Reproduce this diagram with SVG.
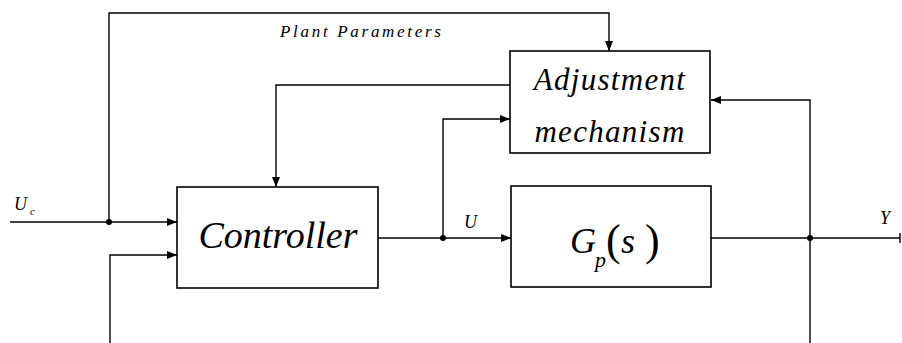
<svg xmlns="http://www.w3.org/2000/svg" width="902" height="343" viewBox="0 0 902 343">
<defs>
<style>
.box{fill:#fff;stroke:#000;stroke-width:1.6}
.ln{fill:none;stroke:#000;stroke-width:1.4}
.t{font-family:'Liberation Serif','Times New Roman',serif;font-style:italic;fill:#000}
.n{font-family:'Liberation Serif','Times New Roman',serif;fill:#000}
</style>
<marker id="ah" markerWidth="10" markerHeight="8" refX="10" refY="4" orient="auto" markerUnits="userSpaceOnUse">
<path d="M0,0 L10,4 L0,8 Z" fill="#000"/>
</marker>
</defs>
<rect width="902" height="343" fill="#fff"/>
<g id="connectors">
<path class="ln" d="M109,222 V13 H609 V51" marker-end="url(#ah)"/>
<path class="ln" d="M10,222 H177" marker-end="url(#ah)"/>
<path class="ln" d="M110,343 V255 H177" marker-end="url(#ah)"/>
<path class="ln" d="M510,85 H276 V187" marker-end="url(#ah)"/>
<path class="ln" d="M378,238 H511" marker-end="url(#ah)"/>
<path class="ln" d="M443,238 V119 H510" marker-end="url(#ah)"/>
<path class="ln" d="M711,238 H900"/>
<path class="ln" d="M900,233 V243"/>
<path class="ln" d="M810,343 V100 H711" marker-end="url(#ah)"/>
<circle cx="109" cy="222" r="3"/>
<circle cx="443" cy="238" r="3"/>
<circle cx="810" cy="238" r="3"/>
<text class="t" x="280" y="37" font-size="17" letter-spacing="2.7">Plant Parameters</text>
<text class="t" x="14" y="210" font-size="18">U</text>
<text class="t" x="30" y="215" font-size="11">c</text>
<text class="t" x="464" y="228" font-size="18">U</text>
<text class="t" x="880" y="224" font-size="18">Y</text>
</g>
<g id="adjustment">
<rect class="box" x="510" y="51" width="200" height="102"/>
<text class="t" x="610" y="90" font-size="31" letter-spacing="1.3" text-anchor="middle">Adjustment</text>
<text class="t" x="610" y="142" font-size="31" letter-spacing="1.3" text-anchor="middle">mechanism</text>
</g>
<g id="controller">
<rect class="box" x="177" y="187" width="201" height="101"/>
<text class="t" x="278" y="248" font-size="38" text-anchor="middle">Controller</text>
</g>
<g id="plant">
<rect class="box" x="511" y="186" width="200" height="101"/>
<text class="t" x="570" y="253" font-size="36">G</text>
<text class="t" x="595" y="267" font-size="22">p</text>
<text class="n" x="606" y="255" font-size="44">(</text>
<text class="t" x="621" y="253" font-size="36">s</text>
<text class="n" x="645" y="255" font-size="44">)</text>
</g>
</svg>
